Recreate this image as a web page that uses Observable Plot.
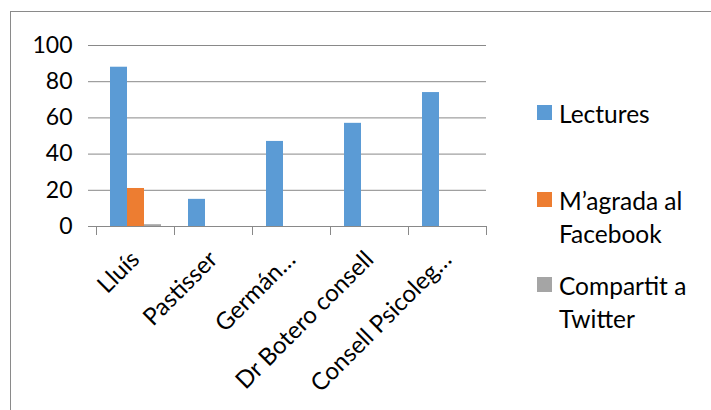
<!DOCTYPE html>
<html>
<head>
<meta charset="utf-8">
<script src="https://cdn.jsdelivr.net/npm/d3@7"></script>
<script src="https://cdn.jsdelivr.net/npm/@observablehq/plot@0.6"></script>
<style>
  html, body { margin: 0; padding: 0; background: #fff; overflow: hidden; }
  #wrap { position: relative; width: 711px; height: 410px; overflow: hidden; font-family: Lato, "Open Sans", sans-serif; }
  #border { position: absolute; left: 10px; top: 11px; width: 900px; height: 600px; border-left: 1.5px solid #8a8a8a; border-top: 1.5px solid #8a8a8a; }
  #chart { position: absolute; left: 0; top: 0; }
  .item { position: absolute; left: 537px; width: 168px; }
  .sw { position: absolute; left: 0; top: 8.5px; width: 15px; height: 15px; }
  .lbl { margin-left: 22px; font-size: 24.5px; line-height: 33px; color: #000; }
</style>
</head>
<body>
<div id="wrap">
  <div id="border"></div>
  <div id="chart"></div>
  <div id="legend"></div>
</div>
<script>
const categories = ["Lluís", "Pastisser", "Germán…", "Dr Botero consell", "Consell Psicoleg…"];
const series = ["Lectures", "M’agrada al Facebook", "Compartit a Twitter"];
const lectures = [88, 15, 47, 57, 74];
const facebook = [21, 0, 0, 0, 0];
const twitter = [1, 0, 0, 0, 0];
const colors = ["#5B9BD5", "#ED7D31", "#A5A5A5"];
const yTicks = [0, 20, 40, 60, 80, 100];

const seriesValues = [lectures, facebook, twitter];
const data = [];
categories.forEach((c, i) => {
  series.forEach((s, j) => {
    data.push({category: c, series: s, value: seriesValues[j][i]});
  });
});

const axisColor = "#898989";

const plot = Plot.plot({
  width: 711,
  height: 410,
  marginLeft: 94,
  marginRight: 224,
  marginTop: 45,
  marginBottom: 184,
  style: {fontFamily: "Lato, 'Open Sans', sans-serif", fontSize: "23px", color: "#000", background: "transparent"},
  fx: {domain: categories, padding: 0},
  x: {domain: series, paddingInner: 0, paddingOuter: 0.75, axis: null},
  y: {domain: [0, 100]},
  color: {domain: series, range: colors},
  marks: [
    Plot.gridY(yTicks, {stroke: axisColor, strokeOpacity: 1, strokeWidth: 1}),
    Plot.axisY(yTicks, {tickSize: 8, tickPadding: 16, stroke: axisColor, fill: "#000", fontSize: 23, label: null}),
    Plot.ruleY([0], {stroke: axisColor, strokeWidth: 1}),
    Plot.frame({anchor: "left", insetTop: 181, insetBottom: -8, stroke: axisColor, strokeWidth: 1}),
    Plot.frame({anchor: "right", insetTop: 181, insetBottom: -8, stroke: axisColor, strokeWidth: 1}),
    Plot.barY(data, {fx: "category", x: "series", y: "value", fill: "series"}),
    Plot.axisFx({anchor: "bottom", tickRotate: -45, tickSize: 0, tickPadding: 22, fontSize: 24, fill: "#000", label: null, dx: 0, dy: 7})
  ]
});
document.getElementById("chart").appendChild(plot);

const legendTops = [96.5, 183.5, 268.5];
const legend = document.getElementById("legend");
series.forEach((s, j) => {
  const item = document.createElement("div");
  item.className = "item";
  item.style.top = legendTops[j] + "px";
  const sw = document.createElement("div");
  sw.className = "sw";
  sw.style.background = colors[j];
  const lbl = document.createElement("div");
  lbl.className = "lbl";
  lbl.textContent = s;
  item.appendChild(sw);
  item.appendChild(lbl);
  legend.appendChild(item);
});
</script>
</body>
</html>
